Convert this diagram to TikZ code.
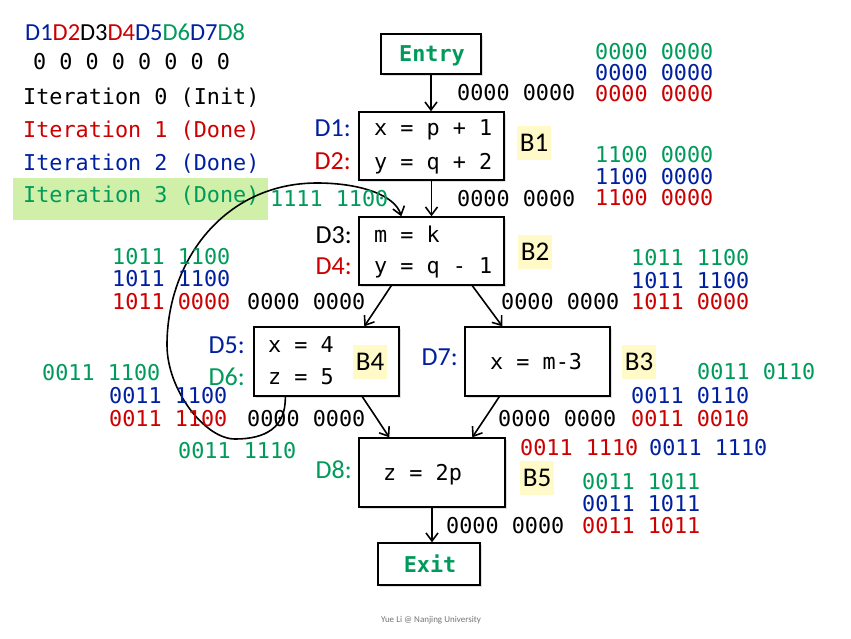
\documentclass[tikz,border=0pt]{standalone}
\usepackage{fontspec}
\setmainfont{Carlito}
\newfontfamily\monofont{DejaVu Sans Mono}
\usetikzlibrary{arrows.meta,shadows}
\definecolor{cgreen}{RGB}{0,155,90}
\definecolor{cblue}{RGB}{0,32,160}
\definecolor{cred}{RGB}{204,0,0}
\definecolor{hlgreen}{RGB}{208,240,170}
\definecolor{hlyellow}{RGB}{255,250,200}
\begin{document}
\begin{tikzpicture}[x=1pt,y=-1pt,
  box/.style={draw, fill=white, line width=1.4pt, inner sep=0pt,
    drop shadow={opacity=0.25, shadow xshift=2pt, shadow yshift=-2pt}},
  num/.style={font=\monofont\fontsize{21.8}{26}\selectfont, inner sep=0pt, anchor=base west, yshift=-7.5pt},
  numc/.style={font=\monofont\fontsize{21.8}{26}\selectfont, inner sep=0pt, anchor=base, yshift=-7.5pt},
  dlab/.style={font=\fontsize{26}{30}\selectfont, inner sep=0pt, anchor=base east, yshift=-8.2pt},
  blab/.style={font=\fontsize{27}{31}\selectfont, fill=hlyellow, text height=17.5pt, text depth=0pt, inner xsep=3pt, inner ysep=8.5pt},
  arr/.style={line width=1.6pt, -{Straight Barb[length=8pt,width=12pt]}},
]
\useasboundingbox (0,0) rectangle (851,638);

% legend
\node[fill=hlgreen, minimum width=255pt, minimum height=42pt, inner sep=0pt] (hl) at (140.5,199) {};
\node[font=\fontsize{24.5}{28}\selectfont, inner sep=0pt, anchor=base west, yshift=-7.8pt] (dhead) at (25,33)
  {\textcolor{cblue}{D1}\textcolor{cred}{D2}D3\textcolor{cred}{D4}\textcolor{cblue}{D5}\textcolor{cgreen}{D6}\textcolor{cblue}{D7}\textcolor{cgreen}{D8}};
\node[num] (zeros) at (33,62) {0 0 0 0 0 0 0 0};
\node[num] (it0) at (23,97) {Iteration 0 (Init)};
\node[num, text=cred] (it1) at (23,130) {Iteration 1 (Done)};
\node[num, text=cblue] (it2) at (23,163) {Iteration 2 (Done)};
\node[num, text=cgreen] (it3) at (23,195) {Iteration 3 (Done)};

% boxes
\node[box, minimum width=100pt, minimum height=40pt] (entry) at (431,54) {};
\node[box, minimum width=145pt, minimum height=68pt] (b1) at (431.5,146) {};
\node[box, minimum width=145pt, minimum height=68pt] (b2) at (431.5,251) {};
\node[box, minimum width=145pt, minimum height=69pt] (b4) at (326.5,361.5) {};
\node[box, minimum width=145pt, minimum height=69pt] (b3) at (537.5,361.5) {};
\node[box, minimum width=146pt, minimum height=69pt] (b5) at (432,472.5) {};
\node[box, minimum width=102pt, minimum height=42pt] (exit) at (429,564) {};

% box texts
\node[numc, text=cgreen, font=\monofont\bfseries\fontsize{21.8}{26}\selectfont] (entryt) at (432,54) {Entry};
\node[numc, text=cgreen, font=\monofont\bfseries\fontsize{21.8}{26}\selectfont] (exitt) at (430,565) {Exit};
\node[num] (b1a) at (374,128) {x = p + 1};
\node[num] (b1b) at (374,162) {y = q + 2};
\node[num] (b2a) at (374,235) {m = k};
\node[num] (b2b) at (374,266) {y = q - 1};
\node[num] (b4a) at (268,345) {x = 4};
\node[num] (b4b) at (268,377) {z = 5};
\node[num] (b3a) at (490,362) {x = m-3};
\node[num] (b5a) at (383,473) {z = 2p};

% definition labels
\node[dlab, text=cblue] (d1) at (351,128) {D1:};
\node[dlab, text=cred] (d2) at (351,161) {D2:};
\node[dlab] (d3) at (352,235) {D3:};
\node[dlab, text=cred] (d4) at (352,266) {D4:};
\node[dlab, text=cblue] (d5) at (245,345) {D5:};
\node[dlab, text=cgreen] (d6) at (245,377) {D6:};
\node[dlab, text=cblue] (d7) at (458,357) {D7:};
\node[dlab, text=cgreen] (d8) at (352,470) {D8:};

% block labels
\node[blab] (lb1) at (534,143) {B1};
\node[blab] (lb2) at (535,252) {B2};
\node[blab] (lb3) at (639,362) {B3};
\node[blab] (lb4) at (370,362) {B4};
\node[blab] (lb5) at (537,478) {B5};

% edges
\draw[arr] (entry.south) -- (entry.south |- b1.north);
\draw[arr] (b1.south) -- (b2.north);
\draw[arr] ([xshift=33pt]b2.south west) -- ([xshift=111pt]b4.north west);
\draw[arr] ([xshift=114pt]b2.south west) -- ([xshift=38pt]b3.north west);
\draw[arr] ([xshift=109pt]b4.south west) -- ([xshift=31pt]b5.north west);
\draw[arr] ([xshift=35pt]b3.south west) -- ([xshift=114pt]b5.north west);
\draw[arr] (b5.south) -- (b5.south |- exit.north);
\draw[arr] ([xshift=32pt]b4.south west) .. controls (286,428) and (265,439) .. (235,439)
  .. controls (205,439) and (167,390) .. (167,345)
  .. controls (167,260) and (225,183) .. (317,183)
  .. controls (360,183) and (395,195) .. ([xshift=43pt]b2.north west);

% bit vectors
\node[num, text=cgreen] (v1) at (595,52) {0000 0000};
\node[num, text=cblue] (v2) at (595,73) {0000 0000};
\node[num, text=cred] (v3) at (595,94) {0000 0000};
\node[num] (v4) at (457,93) {0000 0000};
\node[num, text=cgreen] (v5) at (595,155) {1100 0000};
\node[num, text=cblue] (v6) at (595,177) {1100 0000};
\node[num, text=cred] (v7) at (595,198) {1100 0000};
\node[num] (v8) at (457,199) {0000 0000};
\node[num, text=cgreen] (v9) at (270,199) {1111 1100};
\node[num, text=cgreen] (v10) at (112,257) {1011 1100};
\node[num, text=cblue] (v11) at (112,279) {1011 1100};
\node[num, text=cred] (v12) at (112,302) {1011 0000};
\node[num] (v13) at (247,302) {0000 0000};
\node[num] (v14) at (501,302) {0000 0000};
\node[num, text=cred] (v15) at (631,302) {1011 0000};
\node[num, text=cblue] (v16) at (631,281) {1011 1100};
\node[num, text=cgreen] (v17) at (631,258) {1011 1100};
\node[num, text=cgreen] (v18) at (697,372) {0011 0110};
\node[num, text=cblue] (v19) at (631,396) {0011 0110};
\node[num, text=cred] (v20) at (631,419) {0011 0010};
\node[num] (v21) at (498,419) {0000 0000};
\node[num, text=cgreen] (v22) at (42,373) {0011 1100};
\node[num, text=cblue] (v23) at (109,396) {0011 1100};
\node[num, text=cred] (v24) at (109,419) {0011 1100};
\node[num] (v25) at (247,419) {0000 0000};
\node[num, text=cgreen] (v26) at (178,451) {0011 1110};
\node[num, text=cred] (v27) at (520,448) {0011 1110};
\node[num, text=cblue] (v28) at (649,448) {0011 1110};
\node[num, text=cgreen] (v29) at (582,482) {0011 1011};
\node[num, text=cblue] (v30) at (582,504) {0011 1011};
\node[num, text=cred] (v31) at (582,526) {0011 1011};
\node[num] (v32) at (446,526) {0000 0000};

% footer
\node[font=\fontsize{9}{11}\selectfont, text=black!55, inner sep=0pt] (foot) at (431,620) {Yue Li @ Nanjing University};
\end{tikzpicture}
\end{document}
